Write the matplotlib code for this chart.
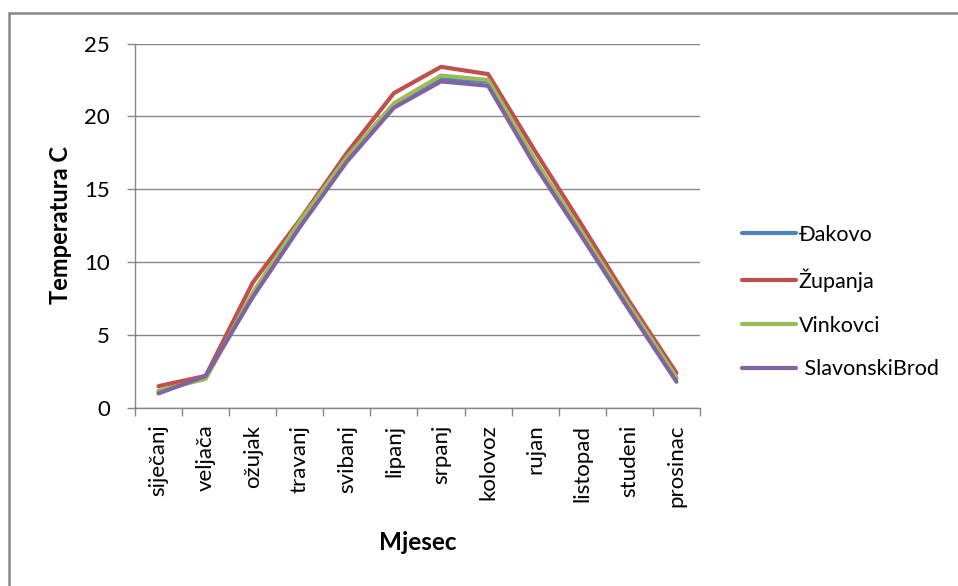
import numpy as np
import matplotlib.pyplot as plt
from matplotlib.patches import Rectangle

# =========================
# DATA
# =========================
MONTHS = ["siječanj", "veljača", "ožujak", "travanj", "svibanj", "lipanj",
          "srpanj", "kolovoz", "rujan", "listopad", "studeni", "prosinac"]

DAKOVO = [1.1, 2.1, 7.7, 12.6, 17.0, 20.8, 22.6, 22.4, 16.8, 11.8, 6.8, 2.0]
ZUPANJA = [1.5, 2.2, 8.6, 12.9, 17.5, 21.6, 23.4, 22.9, 17.6, 12.5, 7.3, 2.4]
VINKOVCI = [1.2, 2.0, 7.9, 12.8, 17.2, 20.9, 22.8, 22.5, 17.0, 12.0, 7.0, 2.1]
SLAVONSKI_BROD = [1.0, 2.2, 7.6, 12.4, 16.9, 20.6, 22.4, 22.1, 16.6, 11.7, 6.7, 1.8]

SERIES = [
    ("Đakovo", DAKOVO, "#4F81BD"),
    ("Županja", ZUPANJA, "#C0504D"),
    ("Vinkovci", VINKOVCI, "#9BBB59"),
    (" SlavonskiBrod", SLAVONSKI_BROD, "#8064A2"),
]

Y_TICKS = [0, 5, 10, 15, 20, 25]

W, H = 958, 586
GRID = "#868686"

plt.rcParams["font.family"] = ["Lato", "DejaVu Sans"]

fig = plt.figure(figsize=(W / 100, H / 100), dpi=100)
ax = fig.add_axes([135 / W, 1 - 408 / H, (700 - 135) / W, (408 - 43.5) / H])

x = np.arange(len(MONTHS))
for name, vals, col in SERIES:
    ax.plot(x, vals, color=col, lw=3.0, label=name, solid_capstyle="round",
            solid_joinstyle="round")

ax.set_xlim(-0.5, len(MONTHS) - 0.5)
ax.set_ylim(0, 25)
ax.set_yticks(Y_TICKS)
ax.yaxis.grid(True, color=GRID, lw=1.0)
ax.set_axisbelow(True)

# category boundaries as tick marks, labels at centers
ax.set_xticks(np.arange(-0.5, len(MONTHS)), labels=[""] * (len(MONTHS) + 1))
ax.set_xticks(x, labels=MONTHS, minor=True)
ax.tick_params(axis="x", which="major", direction="out", length=6, color=GRID, width=1)
ax.tick_params(axis="x", which="minor", length=0, pad=12, labelsize=16,
               labelrotation=90, colors="black")
ax.tick_params(axis="y", direction="out", length=6, color=GRID, width=1,
               labelsize=16, pad=12)

for s in ["top", "right"]:
    ax.spines[s].set_visible(False)
for s in ["left", "bottom"]:
    ax.spines[s].set_color(GRID)
    ax.spines[s].set_linewidth(1.0)

fig.text(60 / W, 1 - 225 / H, "Temperatura C", rotation=90, ha="center",
         va="center", fontsize=17, fontweight="bold")
fig.text(418 / W, 1 - 543 / H, "Mjesec", ha="center", va="center",
         fontsize=17.5, fontweight="bold")

fig.legend(loc="center left", bbox_to_anchor=(723 / W, 1 - 302 / H),
           frameon=False, fontsize=15.5, handlelength=2.5, handletextpad=0.12,
           labelspacing=1.1)

# chart border
fig.patches.append(Rectangle((9 / W, -0.1), 1.2, 1 - 13 / H + 0.1,
                             transform=fig.transFigure, fill=False,
                             edgecolor="#878787", lw=1.8))

fig.savefig("out.png", dpi=100)
